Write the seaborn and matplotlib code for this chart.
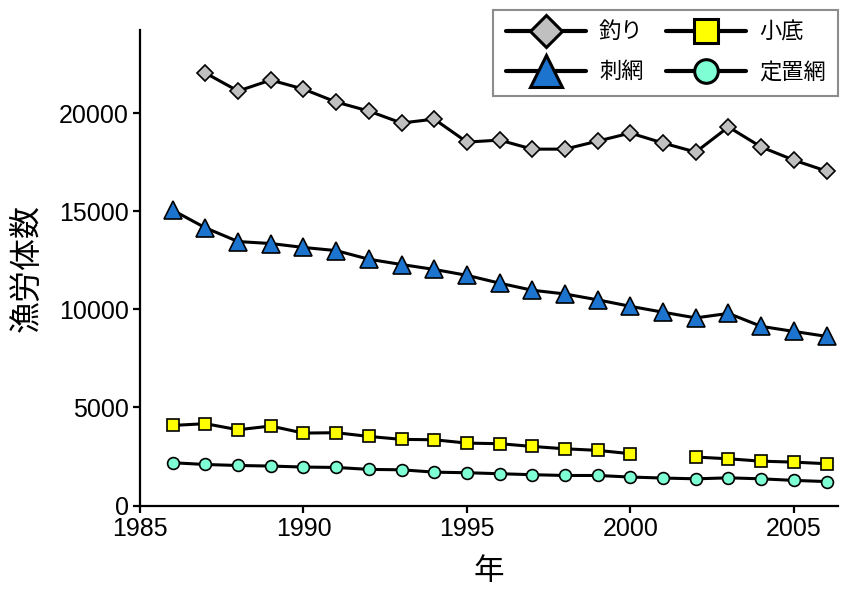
import numpy as np
import matplotlib
matplotlib.use("Agg")
import matplotlib.pyplot as plt
from matplotlib.lines import Line2D
import seaborn as sns

years = np.arange(1986, 2007)

turi = [np.nan, 22040, 21120, 21680, 21220, 20560, 20100, 19490, 19690, 18520, 18620,
        18160, 18160, 18570, 18980, 18470, 18010, 19290, 18270, 17600, 17040]
sasiami = [15050, 14150, 13450, 13350, 13150, 12990, 12550, 12280, 12030, 11730, 11330,
           10970, 10780, 10480, 10150, 9850, 9560, 9790, 9130, 8870, 8620]
kosoko = [4080, 4170, 3860, 4050, 3690, 3710, 3520, 3370, 3350, 3180, 3150,
          3010, 2890, 2810, 2640, np.nan, 2470, 2380, 2260, 2210, 2130]
teichi = [2180, 2090, 2040, 2010, 1960, 1940, 1840, 1820, 1700, 1670, 1620,
          1570, 1530, 1530, 1450, 1400, 1360, 1410, 1360, 1280, 1220]

labels = ["釣り", "刺網", "小底", "定置網"]
series = [turi, sasiami, kosoko, teichi]
markers = ["D", "^", "s", "o"]
colors = ["#C0C0C0", "#1C74CE", "#FFFF00", "#7FFFD4"]
msizes = [8, 13, 8.5, 8.5]
leg_msizes = [16.5, 23, 17.5, 17]

xticks = [1985, 1990, 1995, 2000, 2005]
yticks = [0, 5000, 10000, 15000, 20000]

sns.set_style("ticks")
plt.rcParams["font.family"] = ["Liberation Sans", "Noto Sans CJK JP", "DejaVu Sans"]
plt.rcParams["text.color"] = "black"
plt.rcParams["axes.labelcolor"] = "black"
plt.rcParams["xtick.color"] = "black"
plt.rcParams["ytick.color"] = "black"

fig = plt.figure(figsize=(8.51, 5.92), dpi=100)
ax = fig.add_axes([0.1645, 0.1461, 0.8202, 0.8032])

for vals, mk, col, ms in zip(series, markers, colors, msizes):
    v = np.asarray(vals, dtype=float)
    ok = ~np.isnan(v)
    idx = np.where(ok)[0]
    segs = np.split(idx, np.where(np.diff(idx) != 1)[0] + 1)
    for s in segs:
        sns.lineplot(x=years[s], y=v[s], ax=ax, color="black", linewidth=2.2,
                     marker=mk, markersize=ms, markerfacecolor=col,
                     markeredgecolor="black", markeredgewidth=1.2, zorder=3)

ax.set_xlim(1985, 2006.35)
ax.set_ylim(0, 24230)
ax.set_xticks(xticks)
ax.set_yticks(yticks)
ax.tick_params(axis="both", labelsize=18, length=5, width=1.6, direction="out", pad=3,
               colors="black")
for side in ["top", "right"]:
    ax.spines[side].set_visible(False)
for side in ["left", "bottom"]:
    ax.spines[side].set_linewidth(1.6)
    ax.spines[side].set_color("black")

ax.set_xlabel("年", fontsize=22, labelpad=12)
ax.set_ylabel("漁労体数", fontsize=23, labelpad=12)

handles = [Line2D([0], [0], color="black", linewidth=3, marker=mk, markersize=lm,
                  markerfacecolor=col, markeredgecolor="black", markeredgewidth=2.2)
           for mk, col, lm in zip(markers, colors, leg_msizes)]
leg = ax.legend(handles, labels, ncol=2, loc="upper right",
                bbox_to_anchor=(838 / 851, 1 - 10 / 592), bbox_transform=fig.transFigure,
                fontsize=16, handlelength=3.6, columnspacing=1.0, handletextpad=0.6,
                labelspacing=0.85, borderpad=0.55, borderaxespad=0, fancybox=False,
                frameon=True)
leg.get_frame().set_edgecolor("#707070")
leg.get_frame().set_linewidth(1.5)

fig.savefig("out.png", dpi=100)
